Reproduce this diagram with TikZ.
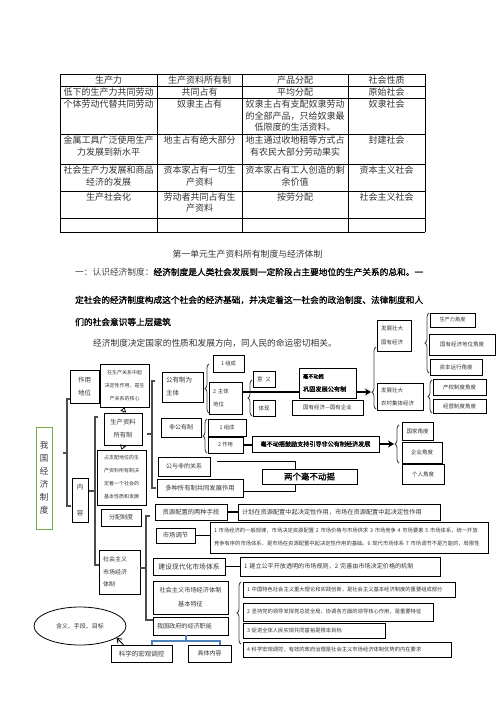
\documentclass[tikz,border=0pt]{standalone}
\usepackage{fontspec}
\setmainfont{Noto Sans CJK SC}[AutoFakeBold=1.1]
\usetikzlibrary{arrows.meta, decorations.pathreplacing, shapes.geometric, calc}
\newcommand{\fsz}[2]{\fontsize{#1}{#2}\selectfont}
\definecolor{mapgreen}{RGB}{112,173,71}
\definecolor{mapblue}{RGB}{79,129,189}
\tikzset{
  box/.style={draw, line width=0.7pt, inner sep=1pt, align=center, text=black!80},
  lbox/.style={box, align=left, inner xsep=4pt},
  cell/.style={anchor=north, inner sep=1pt, align=center, text=black!80, font=\fsz{9}{11.7}},
  bracket/.style={draw=black!70, line width=1.1pt},
  cbrace/.style={draw=black!75, line width=0.8pt, decorate, decoration={brace, amplitude=4pt}},
  link/.style={line width=1.6pt},
  bigarrow/.style={line width=1.6pt, -{Stealth[length=6pt, width=7pt]}},
  blueline/.style={draw=mapblue, line width=2pt},
  tri/.style={line width=0.7pt, -{Triangle[open, length=4.5pt, width=6pt]}}
}
\begin{document}
\begin{tikzpicture}[x=1pt, y=-1pt]
    \useasboundingbox (0,0) rectangle (496,702);

    \foreach \y in {74,86,98,134,164,191,218,232}
        \draw[line width=0.6pt] (60,\y) -- (425,\y);
    \foreach \x in {60,157,242,348,425}
        \draw[line width=0.6pt] (\x,74) -- (\x,232);

    \node[cell] (th1) at (108.5,74.5) {生产力};
    \node[cell] (th2) at (199.5,74.5) {生产资料所有制};
    \node[cell] (th3) at (295,74.5) {产品分配};
    \node[cell] (th4) at (386.5,74.5) {社会性质};
    \node[cell] (ya1) at (108.5,86.5) {低下的生产力共同劳动};
    \node[cell] (ya2) at (199.5,86.5) {共同占有};
    \node[cell] (ya3) at (295,86.5) {平均分配};
    \node[cell] (ya4) at (386.5,86.5) {原始社会};
    \node[cell] (nl1) at (108.5,98.5) {个体劳动代替共同劳动};
    \node[cell] (nl2) at (199.5,98.5) {奴隶主占有};
    \node[cell] (nl3) at (295,98.5) {奴隶主占有支配奴隶劳动\\的全部产品，只给奴隶最\\低限度的生活资料。};
    \node[cell] (nl4) at (386.5,98.5) {奴隶社会};
    \node[cell] (fj1) at (108.5,134.5) {金属工具广泛使用生产\\力发展到新水平};
    \node[cell] (fj2) at (199.5,134.5) {地主占有绝大部分};
    \node[cell] (fj3) at (295,134.5) {地主通过收地租等方式占\\有农民大部分劳动果实};
    \node[cell] (fj4) at (386.5,134.5) {封建社会};
    \node[cell] (zb1) at (108.5,164.5) {社会生产力发展和商品\\经济的发展};
    \node[cell] (zb2) at (199.5,164.5) {资本家占有一切生\\产资料};
    \node[cell] (zb3) at (295,164.5) {资本家占有工人创造的剩\\余价值};
    \node[cell] (zb4) at (386.5,164.5) {资本主义社会};
    \node[cell] (sh1) at (108.5,191.5) {生产社会化};
    \node[cell] (sh2) at (199.5,191.5) {劳动者共同占有生\\产资料};
    \node[cell] (sh3) at (295,191.5) {按劳分配};
    \node[cell] (sh4) at (386.5,191.5) {社会主义社会};

    \node[text=black!80, font=\fsz{8.8}{10}, inner sep=0] (title) at (247.5,254) {第一单元生产资料所有制度与经济体制};
    \node[anchor=west, inner sep=0, font=\fsz{8.7}{10}] (para1) at (75,272)
        {\textcolor{black!75}{一：认识经济制度：}\textbf{经济制度是人类社会发展到一定阶段占主要地位的生产关系的总和。一}};
    \node[anchor=west, inner sep=0, font=\bfseries\fsz{8.7}{10}] (para2) at (75,300)
        {定社会的经济制度构成这个社会的经济基础，并决定着这一社会的政治制度、法律制度和人};
    \node[anchor=west, inner sep=0, font=\bfseries\fsz{8.7}{10}] (para3) at (75,322) {们的社会意识等上层建筑};
    \node[anchor=west, inner sep=0, text=black!80, font=\fsz{8.7}{10}] (para4) at (93,343)
        {经济制度决定国家的性质和发展方向，同人民的命运密切相关。};

    \node[box, draw=mapgreen, line width=1pt, minimum width=16pt, minimum height=102pt, font=\fsz{8.5}{13}] (woguo) at (44,478) {我\\国\\经\\济\\制\\度};
    \node[box, minimum width=29pt, minimum height=33pt, font=\fsz{6.5}{13}] (zuoyong) at (84.5,386.5) {作用\\地位};
    \node[box, minimum width=49pt, minimum height=43pt, font=\fsz{5}{13}] (hexin) at (124.5,385.5) {在生产关系中起\\决定性作用，是生\\产关系的核心};
    \node[box, minimum width=16pt, minimum height=44pt, font=\fsz{6.5}{26}] (neirong) at (80,500) {内\\容};
    \node[box, minimum width=38pt, minimum height=32pt, font=\fsz{6.3}{13}] (shengchan) at (123,429) {生产资料\\所有制};
    \node[box, minimum width=49pt, minimum height=55pt, font=\fsz{5}{13}] (zhipei) at (121.5,477.5) {占支配地位的生\\产资料所有制决\\定着一个社会的\\基本性质和发展};
    \node[box, minimum width=40pt, minimum height=17pt, font=\fsz{6}{8}] (fenpei) at (121,517.5) {分配制度};
    \node[lbox, text width=33pt, minimum height=44pt, font=\fsz{6}{12.5}] (shichang) at (119.5,572) {社会主义\\市场经济\\体制};

    \node[lbox, text width=33pt, minimum height=30pt, font=\fsz{6.5}{13}] (gongyou) at (182.5,387) {公有制为\\主体};
    \node[box, minimum width=40pt, minimum height=19pt, font=\fsz{6}{8}] (feigong) at (181,427.5) {非公有制};
    \node[box, minimum width=52pt, minimum height=19pt, font=\fsz{6}{8}] (gongfei) at (184,466.5) {公与非的关系};
    \node[box, minimum width=86pt, minimum height=18pt, font=\fsz{6.3}{8}] (duozhong) at (200,488) {多种所有制共同发展作用};
    \node[box, minimum width=31pt, minimum height=17pt, font=\fsz{5.3}{8}] (zucheng) at (228.5,363.5) {1 组成};
    \node[lbox, text width=25pt, minimum height=32pt, font=\fsz{5.5}{13}] (zhuti) at (225.5,398) {2 主体\\地位};
    \node[box, minimum width=22pt, minimum height=16pt, font=\fsz{5.5}{8}] (yiyi) at (264,379) {意\hspace{3pt}义};
    \node[box, minimum width=22pt, minimum height=16pt, font=\fsz{5.5}{8}] (tixian) at (264,408) {体现};
    \node[lbox, text width=49pt, minimum height=30pt, text=black, font=\bfseries\fsz{6.2}{13}] (gonggu) at (327.5,383) {{\fsz{5.2}{13}毫不动摇}\\巩固发展公有制};
    \node[box, minimum width=71pt, minimum height=15pt, font=\fsz{5.5}{8}] (guoqi) at (327.5,407.5) {国有经济—国有企业};
    \node[lbox, text width=26pt, minimum height=31pt, font=\fsz{5.5}{13.5}] (guoyou) at (394,335.5) {发展壮大\\国有经济};
    \node[lbox, text width=38pt, minimum height=27pt, font=\fsz{5.5}{13}] (nongcun) at (400,396.5) {发展壮大\\农村集体经济};
    \node[box, minimum width=45pt, minimum height=14pt, font=\fsz{5.2}{8}] (jdscl) at (452.5,320) {生产力角度};
    \node[box, minimum width=66pt, minimum height=21pt, font=\fsz{5.5}{8}] (jdgy) at (462,344.5) {国有经济地位角度};
    \node[box, minimum width=52pt, minimum height=16pt, font=\fsz{5.5}{8}] (jdzb) at (456,367) {资本运行角度};
    \node[box, minimum width=53pt, minimum height=16pt, font=\fsz{5.5}{8}] (jdcq) at (459.5,387) {产权制度角度};
    \node[box, minimum width=53pt, minimum height=14pt, font=\fsz{5.5}{8}] (jdjy) at (459.5,406) {经营制度角度};

    \node[box, minimum width=38pt, minimum height=17pt, font=\fsz{5.3}{8}] (fzucheng) at (227,427.5) {1 组成};
    \node[box, minimum width=35pt, minimum height=16pt, font=\fsz{5.3}{8}] (fzuoyong) at (225.5,445) {2 作用};
    \node[box, minimum width=127pt, minimum height=16pt, text=black, font=\bfseries\fsz{6.1}{8}] (guli) at (315.5,444) {毫不动摇鼓励支持引导非公有制经济发展};
    \node[box, minimum width=31pt, minimum height=18pt, font=\fsz{5.5}{8}] (jdgj) at (417.5,431) {国家角度};
    \node[box, minimum width=40pt, minimum height=21pt, font=\fsz{5.5}{8}] (jdqy) at (422,452.5) {企业角度};
    \node[box, minimum width=42pt, minimum height=20pt, font=\fsz{5.5}{8}] (jdgr) at (423,474) {个人角度};
    \node[box, minimum width=95pt, minimum height=15pt, text=black, font=\bfseries\fsz{8.5}{10}] (liangge) at (309.5,476.5) {两个毫不动摇};

    \node[box, minimum width=72pt, minimum height=16pt, font=\fsz{6.3}{8}] (shouduan) at (191,512) {资源配置的两种手段};
    \node[lbox, text width=194pt, minimum height=16pt, font=\fsz{6.2}{8}] (jihua) at (339,512) {计划在资源配置中起决定性作用，市场在资源配置中起决定性作用};
    \node[box, minimum width=39pt, minimum height=15pt, font=\fsz{6.3}{8}] (tiaojie) at (175.5,535.5) {市场调节};
    \node[lbox, text width=270pt, minimum height=31pt, font=\fsz{5.3}{13}] (guilv) at (349,537.5) {1 市场经济的一般规律，市场决定资源配置 2 市场价格与市场供求 3 市场竞争 4 市场要素 5 市场体系，统一开放\\竞争有序的市场体系，是市场在资源配置中起决定性作用的基础。6 现代市场体系 7 市场调节不是万能的，局限性};
    \node[box, minimum width=72pt, minimum height=17pt, font=\fsz{6.8}{8}] (tixi) at (189,566.5) {建设现代化市场体系};
    \node[lbox, text width=192pt, minimum height=19pt, font=\fsz{6.1}{8}] (guize) at (340,566.5) {1 建立公平开放透明的市场规则，2 完善由市场决定价格的机制};
    \node[box, minimum width=75pt, minimum height=33pt, font=\fsz{6.2}{14}] (tezheng) at (190.5,597.5) {社会主义市场经济体制\\基本特征};
    \node[lbox, text width=204pt, minimum height=15pt, font=\fsz{5.3}{8}] (te1) at (349,589.5) {1 中国特色社会主义重大理论和实践创新，是社会主义基本经济制度的重要组成部分};
    \node[lbox, text width=182pt, minimum height=18pt, font=\fsz{5.3}{8}] (te2) at (338,612) {2 坚持党的领导发挥党总揽全局、协调各方面的领导核心作用，是重要特征};
    \node[lbox, text width=134pt, minimum height=15pt, font=\fsz{5.3}{8}] (te3) at (314,630.5) {3 促进全体人民实现共同富裕是根本目标};
    \node[lbox, text width=200pt, minimum height=15pt, font=\fsz{5.3}{8}] (te4) at (347,649.5) {4 科学宏观调控，有效的政府治理是社会主义市场经济体制优势的内在要求};
    \node[lbox, text width=67pt, minimum height=18pt, font=\fsz{6.1}{8}] (zhineng) at (190.5,626) {我国政府的经济职能};
    \node[box, minimum width=61pt, minimum height=17pt, font=\fsz{6.5}{8}] (hongguan) at (141.5,653.5) {科学的宏观调控};
    \node[box, minimum width=43pt, minimum height=17pt, font=\fsz{6}{8}] (juti) at (209.5,653.5) {具体内容};
    \node[draw, ellipse, line width=0.8pt, minimum width=92pt, minimum height=38pt, inner sep=0, text=black!80, font=\fsz{6}{8}] (hanyi) at (80,626) {含义、手段、目标};

    \draw[bracket] (70,399) -- (67,399) -- (67,506) -- (71,506) (67,453) -- (63,453);
    \draw[bracket] (98,417) -- (95,417) -- (95,565) -- (99,565) (95,491) -- (89,491);
    \draw[bracket] (155,381) -- (152,381) -- (152,488) -- (156,488) (152,434) -- (147,434);
    \draw[bracket] (150,516) -- (146,516) -- (146,620) -- (153,620) (146,568) -- (140,568);

    \draw[cbrace] (209,413) -- (209,364);
    \draw[cbrace] (252,416) -- (252,380);
    \draw[cbrace, decoration={aspect=0.27}] (376,409) -- (376,347);
    \draw[cbrace] (429,373) -- (429,313);
    \draw[cbrace] (432,413) -- (432,380);
    \draw[cbrace] (207,453) -- (207,419);
    \draw[cbrace] (399,463) -- (399,425);
    \draw[cbrace] (241,644) -- (241,582);

    \draw[tri] (shengchan.north) -- (hexin.south);
    \draw[tri] (shengchan.south) -- (zhipei.north);

    \coordinate (zj) at ([yshift=6pt]zhuti.east);
    \coordinate (ftip) at (371,392);
    \draw[link] (zj) -- (zj -| gonggu.west);
    \draw[bigarrow] (zj -| gonggu.east) -- (ftip);

    \coordinate (jtip) at (394,444);
    \draw[link] (fzuoyong.east) -- (fzuoyong.east -| guli.west);
    \draw[bigarrow] (guli.east) -- (jtip);

    \coordinate (gf) at ([xshift=7pt, yshift=5.5pt]gongfei.east);
    \draw[line width=0.9pt] (gf) -| ([xshift=-14pt]liangge.north);
    \draw[line width=0.9pt] ([yshift=-3pt]duozhong.east) -| ([xshift=-14pt]liangge.south);

    \draw[link] (shouduan.east) -- (jihua.west);
    \draw[line width=0.7pt] (tiaojie.east) -- (tiaojie.east -| guilv.west);
    \draw[link] (tixi.east) -- (tixi.east -| guize.west);

    \coordinate (zn) at ([xshift=-5pt]zhineng.south);
    \draw[blueline] (zn) -- ++(0,6) coordinate (zm);
    \draw[blueline] ([xshift=10pt]hongguan.north) |- (zm) -| ([xshift=10pt]juti.north);
    \draw[line width=0.9pt, -{Straight Barb[length=4pt, width=6pt]}] ([xshift=-18pt]hongguan.north) -- (hanyi.-18);
\end{tikzpicture}
\end{document}
